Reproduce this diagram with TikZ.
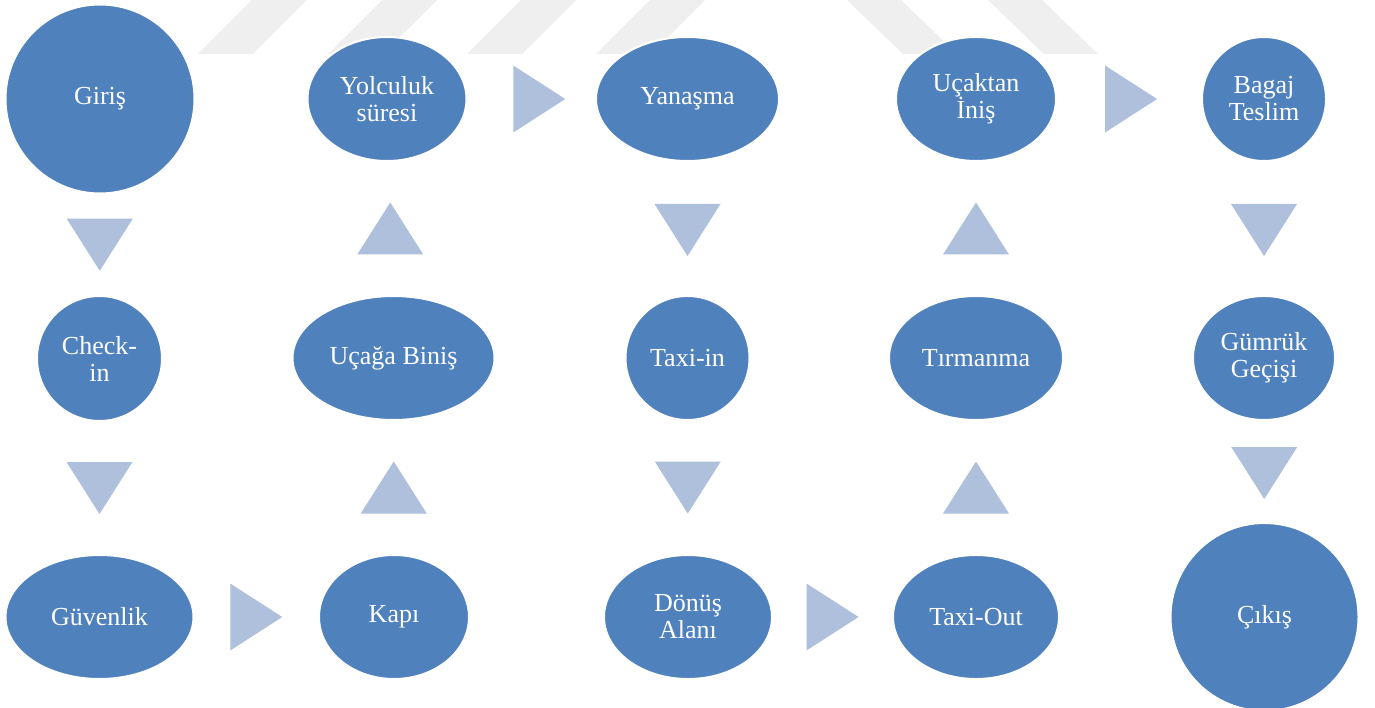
\documentclass[tikz,border=0pt]{standalone}
\usepackage{fontspec}
\setmainfont{Liberation Serif}
\usetikzlibrary{shapes.geometric,calc}
\definecolor{stageblue}{HTML}{4F81BD}
\definecolor{arrowblue}{HTML}{AFC0DC}
\definecolor{markgray}{HTML}{EFEFEF}
\begin{document}
\begin{tikzpicture}[x=1pt,y=-1pt,
  stage/.style={ellipse, fill=stageblue, draw=white, line width=2pt,
    inner sep=0pt, outer sep=0pt},
  stagetext/.style={text=white, align=center, inner sep=0pt,
    font=\fontsize{26}{27}\selectfont},
  arrowfill/.style={fill=arrowblue},
  markstripe/.style={fill=markgray},
  tridown/.pic={\fill[arrowfill] (-33,-26) -- (33,-26) -- (0,26) -- cycle;},
  triup/.pic={\fill[arrowfill] (-33,26) -- (33,26) -- (0,-26) -- cycle;},
  triright/.pic={\fill[arrowfill] (-26,-33.5) -- (-26,33.5) -- (26,0) -- cycle;},
]
\useasboundingbox (0,0) rectangle (1375,708);
\fill[white] (0,0) rectangle (1375,708);

% faint stripes along the top edge
\foreach \a in {252,382,521,650}
  \fill[markstripe] (\a,0) -- (\a+55,0) -- (\a+1,54) -- (\a-54,54) -- cycle;
\foreach \b in {847,988}
  \fill[markstripe] (\b,0) -- (\b+54,0) -- (\b+110,54) -- (\b+56,54) -- cycle;

% stages
\node[stage, minimum width=189pt, minimum height=189pt,
  label={[stagetext]center:Giriş}] (giris) at (100,99) {};
\node[stage, minimum width=159pt, minimum height=124pt,
  label={[stagetext]center:Yolculuk\\süresi}] (yolculuk) at (387,99) {};
\node[stage, minimum width=183pt, minimum height=124pt,
  label={[stagetext]center:Yanaşma}] (yanasma) at (687.5,99) {};
\node[stage, minimum width=160pt, minimum height=124pt,
  label={[stagetext]center:Uçaktan\\İniş}] (ucaktan) at (976,99) {};
\node[stage, minimum width=124pt, minimum height=124pt,
  label={[stagetext]center:Bagaj\\Teslim}] (bagaj) at (1264,99) {};

\node[stage, minimum width=125pt, minimum height=125pt,
  label={[stagetext]center:Check-\\in}] (checkin) at (99.5,358.5) {};
\node[stage, minimum width=202pt, minimum height=124pt,
  label={[stagetext]center:Uçağa Biniş}] (ucaga) at (393.5,358) {};
\node[stage, minimum width=124pt, minimum height=124pt,
  label={[stagetext]center:Taxi-in}] (taxiin) at (687.5,358) {};
\node[stage, minimum width=174pt, minimum height=124pt,
  label={[stagetext]center:Tırmanma}] (tirmanma) at (976,358) {};
\node[stage, minimum width=142pt, minimum height=124pt,
  label={[stagetext]center:Gümrük\\Geçişi}] (gumruk) at (1264,358) {};

\node[stage, minimum width=188pt, minimum height=124pt,
  label={[stagetext]center:Güvenlik}] (guvenlik) at (99.5,617) {};
\node[stage, minimum width=150pt, minimum height=124pt,
  label={[stagetext]center:Kapı}] (kapi) at (394,617) {};
\node[stage, minimum width=168pt, minimum height=124pt,
  label={[stagetext]center:Dönüş\\Alanı}] (donus) at (688,617) {};
\node[stage, minimum width=166pt, minimum height=124pt,
  label={[stagetext]center:Taxi-Out}] (taxiout) at (976,617) {};
\node[stage, minimum width=188pt, minimum height=188pt,
  label={[stagetext]center:Çıkış}] (cikis) at (1264.5,617) {};

% flow arrows between neighbouring stages
\pic at ($(giris.south)!0.5!(checkin.north)$) {tridown};
\pic at ($(checkin.south)!0.5!(guvenlik.north)$) {tridown};
\pic at ($(guvenlik.east)!0.5!(kapi.west)$) {triright};
\pic at ($(kapi.north)!0.5!(ucaga.south)$) {triup};
\pic at ($(ucaga.north)!0.5!(yolculuk.south)$) {triup};
\pic at ($(yolculuk.east)!0.5!(yanasma.west)+(8,0)$) {triright};
\pic at ($(yanasma.south)!0.5!(taxiin.north)+(0,1.5)$) {tridown};
\pic at ($(taxiin.south)!0.5!(donus.north)$) {tridown};
\pic at ($(donus.east)!0.5!(taxiout.west)$) {triright};
\pic at ($(taxiout.north)!0.5!(tirmanma.south)$) {triup};
\pic at ($(tirmanma.north)!0.5!(ucaktan.south)$) {triup};
\pic at ($(ucaktan.east)!0.5!(bagaj.west)+(2,0)$) {triright};
\pic at ($(bagaj.south)!0.5!(gumruk.north)+(0,1.5)$) {tridown};
\pic at ($(gumruk.south)!0.5!(cikis.north)+(0,1.5)$) {tridown};
\end{tikzpicture}
\end{document}
